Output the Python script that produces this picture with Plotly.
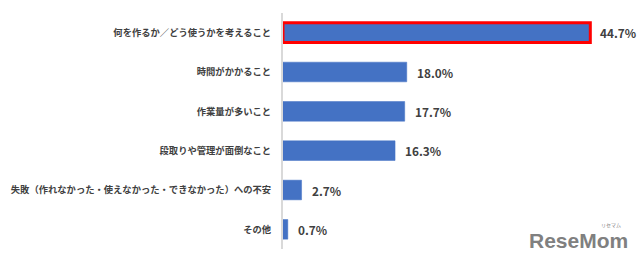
import plotly.graph_objects as go

categories = [
    "何を作るか／どう使うかを考えること",
    "時間がかかること",
    "作業量が多いこと",
    "段取りや管理が面倒なこと",
    "失敗（作れなかった・使えなかった・できなかった）への不安",
    "その他",
]
values = [44.7, 18.0, 17.7, 16.3, 2.7, 0.7]
value_labels = ["44.7%", "18.0%", "17.7%", "16.3%", "2.7%", "0.7%"]
highlight = [True, False, False, False, False, False]

bar_color = "#4472C4"
line_colors = ["#FF0000" if h else bar_color for h in highlight]
line_widths = [3 if h else 0.5 for h in highlight]

fig = go.Figure()
fig.add_trace(go.Bar(
    x=values,
    y=categories,
    orientation="h",
    marker=dict(color=bar_color, line=dict(color=line_colors, width=line_widths)),
    width=0.5,
    hoverinfo="skip",
))

for v, lab, c in zip(values, value_labels, categories):
    fig.add_annotation(
        x=v, y=c, text="<b>" + lab + "</b>", showarrow=False,
        xanchor="left", yanchor="middle", xshift=8,
        font=dict(family="Noto Sans CJK JP", size=11.8, color="#404040"),
    )

fig.add_annotation(
    xref="paper", yref="paper", x=1.05, y=-0.02, xanchor="right", yanchor="bottom",
    text="<b>ReseMom</b>", showarrow=False,
    font=dict(family="Liberation Sans", size=21, color="#808080"),
)
fig.add_annotation(
    xref="paper", yref="paper", x=1.03, y=0.075, xanchor="right", yanchor="bottom",
    text="リセマム", showarrow=False,
    font=dict(family="Noto Sans CJK JP", size=5, color="#808080"),
)

fig.update_layout(
    width=640, height=263,
    margin=dict(l=283, r=27, t=13, b=14),
    paper_bgcolor="white", plot_bgcolor="white",
    showlegend=False,
    xaxis=dict(range=[0, 48], visible=False, fixedrange=True),
    yaxis=dict(
        autorange="reversed", automargin=False,
        showline=True, linecolor="#D9D9D9", linewidth=2,
        showgrid=False, zeroline=False, ticks="",
        ticklabelstandoff=8,
        tickfont=dict(family="Noto Sans CJK JP", size=9.3, color="#404040", weight="bold"),
    ),
    bargap=0.5,
)

fig.write_html("out.html")
